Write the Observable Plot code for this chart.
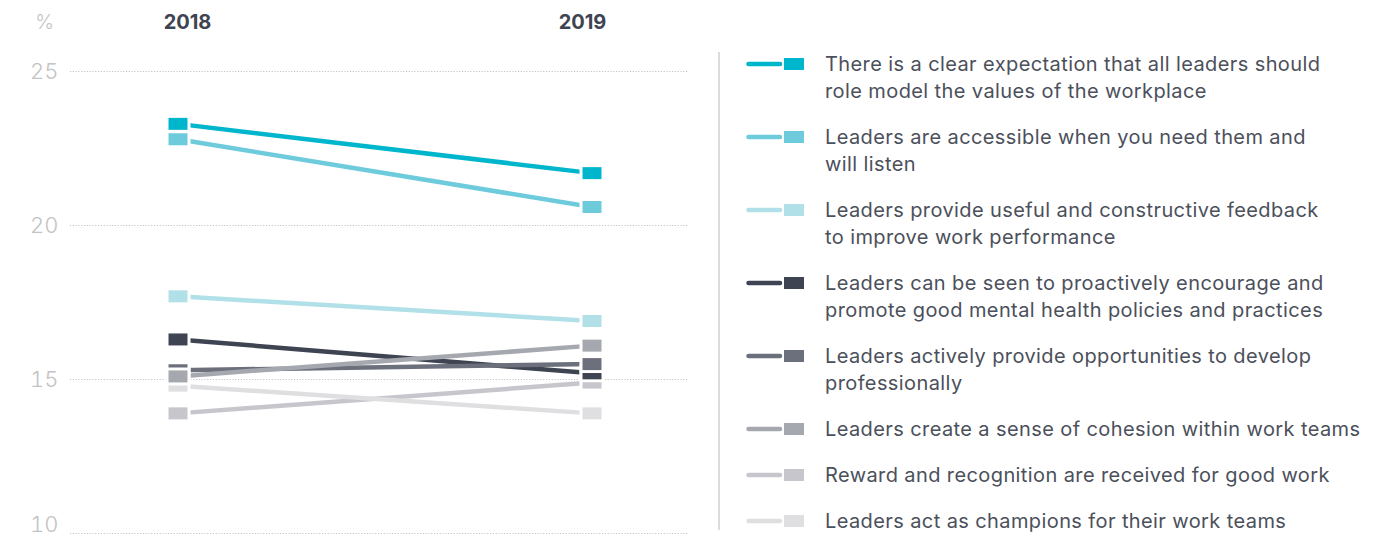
<!DOCTYPE html>
<html>
<head>
<meta charset="utf-8">
<script src="https://cdn.jsdelivr.net/npm/d3@7"></script>
<script src="https://cdn.jsdelivr.net/npm/@observablehq/plot@0.6"></script>
<style>
  html, body { margin: 0; padding: 0; background: #fff; }
  #wrap { position: relative; width: 1379px; height: 535px; overflow: hidden; font-family: Inter, "Open Sans", sans-serif; }
  #chart { position: absolute; left: 0; top: 0; }
  #legend { position: absolute; left: 718px; top: 52px; width: 650px; height: 478px; border-left: 2px solid #dcdcdc; }
  .item { position: absolute; left: 26px; display: flex; align-items: flex-start; }
  .item svg { flex: none; margin-top: 7.5px; }
  .item .txt { margin-left: 19px; white-space: pre; font-size: 20px; letter-spacing: 0.4px; line-height: 27px; color: #4b505b; }
  g[aria-label="dot"] path { paint-order: stroke; }
</style>
</head>
<body>
<div id="wrap">
  <div id="chart"></div>
  <div id="legend"></div>
</div>
<script>
const years = [2018, 2019];
const series = [
  "There is a clear expectation that all leaders should\nrole model the values of the workplace",
  "Leaders are accessible when you need them and\nwill listen",
  "Leaders provide useful and constructive feedback\nto improve work performance",
  "Leaders can be seen to proactively encourage and\npromote good mental health policies and practices",
  "Leaders actively provide opportunities to develop\nprofessionally",
  "Leaders create a sense of cohesion within work teams",
  "Reward and recognition are received for good work",
  "Leaders act as champions for their work teams"
];
const colors = ["#00b6cc", "#6dcbdc", "#b1e0e8", "#3e4451", "#6c707c", "#a5a8af", "#c6c6cc", "#dfdfe2"];
const values2018 = [23.3, 22.8, 17.7, 16.3, 15.3, 15.1, 13.9, 14.8];
const values2019 = [21.7, 20.6, 16.9, 15.2, 15.5, 16.1, 14.9, 13.9];
const yTicks = [10, 15, 20, 25];
const yLabel = "%";

// draw order of the squares (later on top)
const squareOrder = [0, 1, 2, 6, 7, 3, 4, 5];

const rows = series.flatMap((s, i) => [
  {series: s, idx: i, year: years[0], value: values2018[i]},
  {series: s, idx: i, year: years[1], value: values2019[i]}
]);
const squareRows = squareOrder.flatMap(i => rows.filter(r => r.idx === i));

const rectSymbol = { draw(ctx) { ctx.rect(-9.5, -6, 19, 12); } };
const yMin = d3.min(yTicks);
const tickStyle = { frameAnchor: "left", textAnchor: "end", dx: -12, fontSize: 22, fontWeight: 300, fill: "#c3c3c3" };
const yearStyle = { frameAnchor: "top", lineAnchor: "middle", dy: -49, fontSize: 20, fontWeight: 700, fill: "#3e4451", text: d => String(d) };

const chart = Plot.plot({
  width: 700,
  height: 535,
  marginLeft: 70,
  marginRight: 12,
  marginTop: 71,
  marginBottom: 2,
  style: { fontFamily: "Inter, 'Open Sans', sans-serif", background: "transparent" },
  x: { domain: years, type: "linear", range: [177.5, 591.5], axis: null },
  y: { domain: [10, 25], range: [533, 71], axis: null },
  color: { domain: series, range: colors },
  marks: [
    Plot.ruleY(yTicks, { stroke: "#c4c4c4", strokeWidth: 1, strokeDasharray: "1.2,1.6" }),
    Plot.text(yTicks.filter(t => t > yMin), { y: d => d, lineAnchor: "middle", ...tickStyle }),
    Plot.text(yTicks.filter(t => t === yMin), { y: d => d, lineAnchor: "bottom", dy: -2, ...tickStyle }),
    Plot.text([yLabel], { frameAnchor: "top-left", lineAnchor: "middle", dx: -26, dy: -49, textAnchor: "middle", fontSize: 20, fontWeight: 300, fill: "#c3c3c3" }),
    Plot.text([years[0]], { x: d => d, dx: 9.5, ...yearStyle }),
    Plot.text([years[1]], { x: d => d, dx: -9.5, ...yearStyle }),
    Plot.line(rows, { x: "year", y: "value", z: "series", stroke: "series", strokeWidth: 4.5, strokeLinecap: "butt" }),
    Plot.dot(squareRows, { x: "year", y: "value", fill: "series", symbol: rectSymbol, stroke: "white", strokeWidth: 6, paintOrder: "stroke" })
  ]
});
document.getElementById("chart").appendChild(chart);

// legend
const legend = d3.select("#legend");
let itemTop = -1.5;
series.forEach((s, i) => {
  const nLines = s.split("\n").length;
  const item = legend.append("div").attr("class", "item").style("top", itemTop + "px");
  const svg = item.append("svg").attr("width", 60).attr("height", 12);
  svg.append("line").attr("x1", 2.5).attr("x2", 34).attr("y1", 6).attr("y2", 6)
    .attr("stroke", colors[i]).attr("stroke-width", 4.5).attr("stroke-linecap", "round");
  svg.append("rect").attr("x", 38).attr("y", 0).attr("width", 20).attr("height", 12).attr("fill", colors[i]);
  item.append("div").attr("class", "txt").text(s);
  itemTop += nLines * 27 + 19;
});
</script>
</body>
</html>
